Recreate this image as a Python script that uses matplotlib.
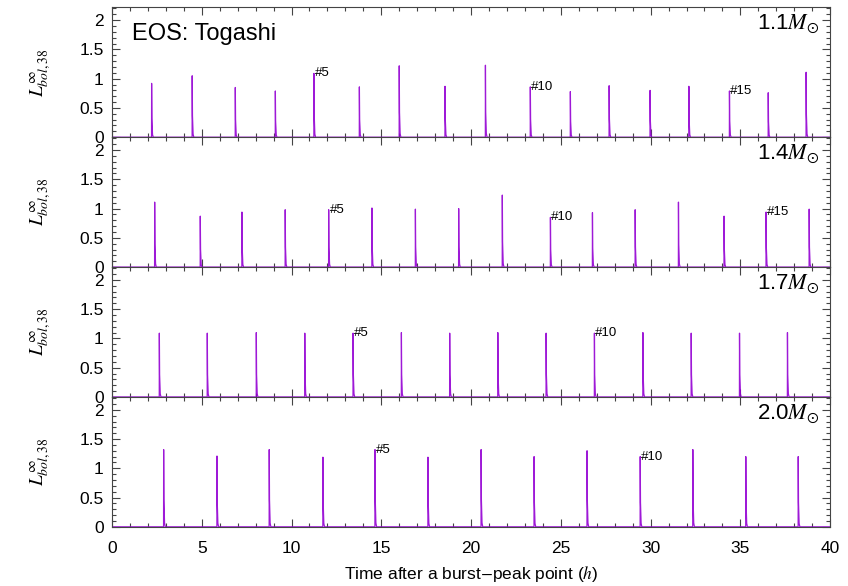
import numpy as np
import matplotlib
matplotlib.use("Agg")
import matplotlib.pyplot as plt
from matplotlib.ticker import MultipleLocator, FormatStrFormatter

plt.rcParams["font.family"] = ["Liberation Sans", "DejaVu Sans"]
plt.rcParams["mathtext.fontset"] = "stix"

# Tiempos de los picos (h) y luminosidad pico por masa
masas = ["1.1", "1.4", "1.7", "2.0"]

t_11 = [2.21, 4.47, 6.87, 9.10, 11.25, 13.78, 16.00, 18.55, 20.80, 23.30,
        25.53, 27.69, 29.97, 32.13, 34.39, 36.55, 38.66]
L_11 = [0.92, 1.05, 0.85, 0.79, 1.09, 0.86, 1.22, 0.87, 1.23, 0.86,
        0.78, 0.88, 0.80, 0.87, 0.79, 0.76, 1.11]

t_14 = [2.38, 4.92, 7.24, 9.65, 12.07, 14.48, 16.90, 19.31, 21.74, 24.42,
        26.76, 29.14, 31.55, 34.09, 36.43, 38.83]
L_14 = [1.11, 0.87, 0.94, 0.98, 0.98, 1.01, 0.99, 1.00, 1.23, 0.85,
        0.93, 0.98, 1.11, 0.87, 0.94, 0.99]

t_17 = [2.64, 5.31, 8.04, 10.74, 13.43, 16.12, 18.81, 21.49, 24.18, 26.87,
        29.57, 32.26, 34.95, 37.62]
L_17 = [1.09, 1.09, 1.10, 1.09, 1.09, 1.10, 1.09, 1.10, 1.09, 1.09,
        1.10, 1.09, 1.09, 1.10]

t_20 = [2.88, 5.85, 8.76, 11.75, 14.65, 17.60, 20.56, 23.51, 26.46, 29.42,
        32.35, 35.30, 38.22]
L_20 = [1.32, 1.21, 1.32, 1.19, 1.32, 1.19, 1.32, 1.20, 1.30, 1.20,
        1.32, 1.20, 1.20]

# Ráfagas con etiqueta (#5, #10, #15)
etiquetas = [5, 10, 15]

tiempos = [t_11, t_14, t_17, t_20]
lums = [L_11, L_14, L_17, L_20]

color = "#9400d3"
gris = "#444444"


def curva_luz(t_picos, L_picos):
    # Cada ráfaga: subida abrupta y caída rápida sobre la línea base
    xs, ys = [0.0], [0.0]
    for t, L in zip(t_picos, L_picos):
        xs += [t - 0.005, t, t + 0.015, t + 0.05, t + 0.09]
        ys += [0.0, L, 0.35 * L, 0.05 * L, 0.0]
    xs.append(40.0)
    ys.append(0.0)
    return np.array(xs), np.array(ys)


fig = plt.figure(figsize=(8.48, 5.86), dpi=100)
izq, der = 0.132, 0.979
abajo, arriba = 0.101, 0.9875
alto = (arriba - abajo) / 4

for i, (masa, tp, Lp) in enumerate(zip(masas, tiempos, lums)):
    ax = fig.add_axes([izq, arriba - (i + 1) * alto, der - izq, alto])
    x, y = curva_luz(tp, Lp)
    ax.plot(x, y, color=color, lw=0.9, alpha=0.9)
    ax.set_xlim(0, 40)
    ax.set_ylim(0, 2.22)

    ax.xaxis.set_major_locator(MultipleLocator(5))
    ax.xaxis.set_minor_locator(MultipleLocator(1))
    ax.yaxis.set_major_locator(MultipleLocator(0.5))
    ax.yaxis.set_minor_locator(MultipleLocator(0.1))
    ax.yaxis.set_major_formatter(FormatStrFormatter("%g"))
    ax.tick_params(which="both", direction="in", top=True, right=True,
                   color=gris, labelsize=12.5)
    ax.tick_params(which="major", length=6, width=0.8)
    ax.tick_params(which="minor", length=3, width=0.8)
    ax.tick_params(axis="x", pad=10)
    ax.tick_params(axis="y", pad=6)
    for s in ax.spines.values():
        s.set_color(gris)
        s.set_linewidth(0.8)
    if i < 3:
        ax.tick_params(labelbottom=False)

    ax.set_ylabel(r"$L^{\infty}_{bol,38}$", fontsize=14, labelpad=18)

    for n in etiquetas:
        if n <= len(tp):
            ax.text(tp[n - 1] + 0.05, Lp[n - 1], "#%d" % n, fontsize=9.5,
                    ha="left", va="center")

    ax.text(0.985, 0.96, masa + r"$M_{\odot}$", transform=ax.transAxes,
            ha="right", va="top", fontsize=16)
    if i == 0:
        ax.text(0.028, 0.88, "EOS: Togashi", transform=ax.transAxes,
                ha="left", va="top", fontsize=17)
    if i == 3:
        ax.set_xlabel(r"Time after a burst$-$peak point ($h$)", fontsize=12.5,
                      labelpad=6)

fig.savefig("out.png", dpi=100)
